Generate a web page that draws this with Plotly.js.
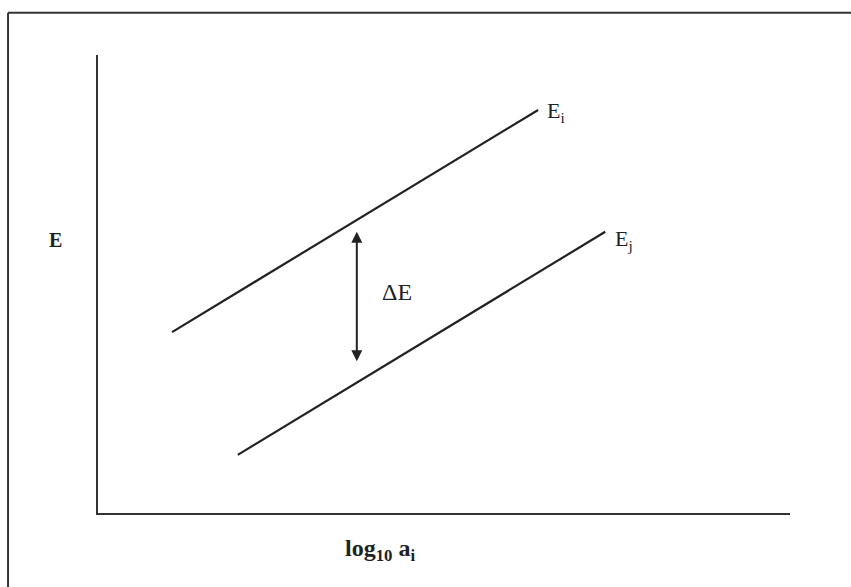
<!DOCTYPE html>
<html>
<head>
<meta charset="utf-8">
<script src="https://cdn.plot.ly/plotly-3.0.1.min.js"></script>
<style>html,body{margin:0;padding:0;background:#fff;}#chart{width:851px;height:587px;}</style>
</head>
<body>
<div id="chart"></div>
<script>
// Schematic data (arbitrary units)
var eiX = [1.07, 6.36];
var eiY = [3.95, 8.80];
var ejX = [2.02, 7.33];
var ejY = [1.27, 6.14];
var arrowX = 3.74;
var arrowY = [3.28, 6.14];
var labelEi = "E<sub>i</sub>";
var labelEj = "E<sub>j</sub>";
var labelDelta = "ΔE";
var xTitle = "<b>log<sub>10</sub> a<sub>i</sub></b>";
var yTitle = "<b>E</b>";

var serif = "Liberation Serif, Times New Roman, serif";
var ink = "#222";

var traces = [
  {x: eiX, y: eiY, mode: "lines", line: {color: ink, width: 2.2}, hoverinfo: "skip"},
  {x: ejX, y: ejY, mode: "lines", line: {color: ink, width: 2.2}, hoverinfo: "skip"}
];

var layout = {
  width: 851, height: 587,
  margin: {l: 98, r: 61, t: 55, b: 74},
  paper_bgcolor: "#fff", plot_bgcolor: "#fff",
  showlegend: false,
  xaxis: {range: [0, 10], showgrid: false, zeroline: false, showticklabels: false, ticks: "",
          showline: true, linecolor: "#333", linewidth: 2, fixedrange: true},
  yaxis: {range: [0, 10], showgrid: false, zeroline: false, showticklabels: false, ticks: "",
          showline: true, linecolor: "#333", linewidth: 2, fixedrange: true},
  shapes: [
    {type: "line", xref: "paper", yref: "paper", x0: -0.130, x1: -0.130, y0: -0.17, y1: 1.092,
     line: {color: "#333", width: 2}},
    {type: "line", xref: "paper", yref: "paper", x0: -0.130, x1: 1.09, y0: 1.092, y1: 1.092,
     line: {color: "#333", width: 2}}
  ],
  annotations: [
    {x: arrowX, y: arrowY[1], ax: arrowX, ay: arrowY[0], xref: "x", yref: "y", axref: "x", ayref: "y",
     text: "", showarrow: true, arrowhead: 2, arrowside: "end+start", arrowsize: 1.1, arrowwidth: 2,
     arrowcolor: ink, standoff: 0, startstandoff: 0},
    {x: 6.46, y: 8.76, xref: "x", yref: "y", text: labelEi, showarrow: false, xanchor: "left", yanchor: "middle",
     font: {family: serif, size: 22, color: ink}},
    {x: 7.44, y: 5.96, xref: "x", yref: "y", text: labelEj, showarrow: false, xanchor: "left", yanchor: "middle",
     font: {family: serif, size: 22, color: ink}},
    {x: 4.08, y: 4.83, xref: "x", yref: "y", text: labelDelta, showarrow: false, xanchor: "left", yanchor: "middle",
     font: {family: serif, size: 24, color: ink}},
    {x: -0.062, y: 0.596, xref: "paper", yref: "paper", text: yTitle, showarrow: false, xanchor: "center", yanchor: "middle",
     font: {family: serif, size: 20, color: ink}},
    {x: 0.408, y: -0.081, xref: "paper", yref: "paper", text: xTitle, showarrow: false, xanchor: "center", yanchor: "middle",
     font: {family: serif, size: 24, color: ink}}
  ]
};

Plotly.newPlot("chart", traces, layout, {displayModeBar: false, staticPlot: true});
</script>
</body>
</html>
